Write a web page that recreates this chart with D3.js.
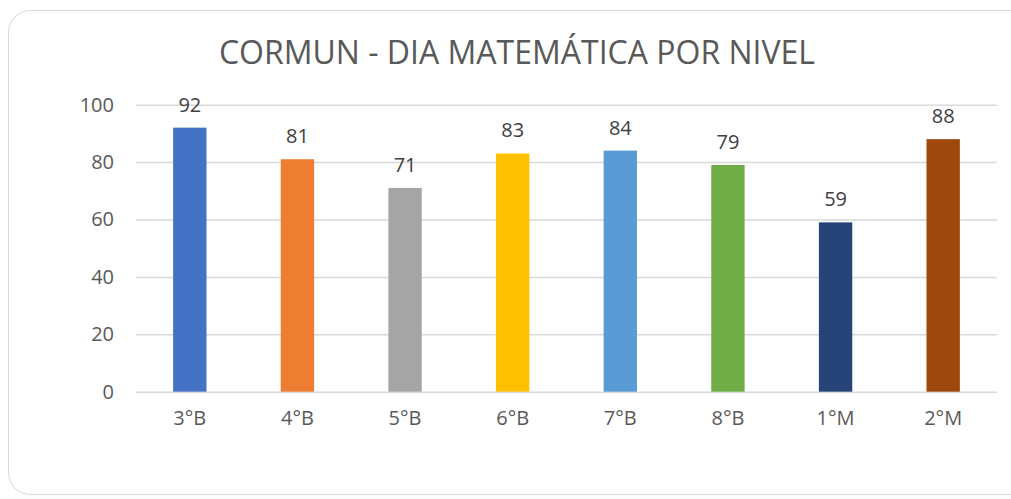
<!DOCTYPE html>
<html>
<head>
    <meta charset="utf-8">
    <title>CORMUN - Dia Matemática</title>
    <script src="https://d3js.org/d3.v7.min.js"></script>
    <style>
        body { margin: 0; background: #fff; font-family: "Open Sans", sans-serif; }
        .grid line { stroke: #d9d9d9; stroke-width: 1.5px; }
        .grid path { display: none; }
        .tick text { fill: #595959; }
    </style>
</head>
<body>
<script>
    // chart data
    let niveles = ["3°B", "4°B", "5°B", "6°B", "7°B", "8°B", "1°M", "2°M"];
    let valores = [92, 81, 71, 83, 84, 79, 59, 88];
    let colores = ["#4472C4", "#ED7D31", "#A5A5A5", "#FFC000", "#5B9BD5", "#70AD47", "#264478", "#9E480E"];
    let yTicks = [0, 20, 40, 60, 80, 100];

    let width = 1011, height = 499;
    let plot = {left: 136, right: 997, top: 104.7, bottom: 391.7};

    let svg = d3.select("body").append("svg")
        .attr("width", width)
        .attr("height", height);

    // card frame
    svg.append("rect")
        .attr("x", 8.5).attr("y", 10.5)
        .attr("width", 1040).attr("height", 484)
        .attr("rx", 22)
        .attr("fill", "#fff")
        .attr("stroke", "#d9d9d9")
        .attr("stroke-width", 1);

    svg.append("text")
        .attr("x", 517).attr("y", 64)
        .attr("text-anchor", "middle")
        .attr("font-size", 32)
        .attr("fill", "#595959")
        .text("CORMUN - DIA MATEMÁTICA POR NIVEL");

    let x = d3.scaleBand().domain(niveles).range([plot.left, plot.right]).paddingInner(0.69).paddingOuter(0.345);
    let y = d3.scaleLinear().domain([0, 100]).range([plot.bottom, plot.top]);

    // gridlines + y labels
    svg.append("g")
        .attr("class", "grid")
        .attr("transform", `translate(${plot.left},0)`)
        .call(d3.axisLeft(y).tickValues(yTicks).tickSize(-(plot.right - plot.left)).tickPadding(22))
        .call(g => g.selectAll("text").attr("font-size", 20).attr("font-family", "Open Sans"));

    // x labels
    svg.append("g")
        .attr("transform", `translate(0,${plot.bottom})`)
        .call(d3.axisBottom(x).tickSize(0).tickPadding(19))
        .call(g => g.select(".domain").remove())
        .call(g => g.selectAll("text").attr("font-size", 20).attr("font-family", "Open Sans"));

    let data = niveles.map((n, i) => ({nivel: n, valor: valores[i], color: colores[i]}));

    svg.append("g").selectAll("rect")
        .data(data)
        .join("rect")
        .attr("x", d => x(d.nivel))
        .attr("y", d => y(d.valor))
        .attr("width", x.bandwidth())
        .attr("height", d => y(0) - y(d.valor))
        .attr("fill", d => d.color);

    svg.append("g").selectAll("text")
        .data(data)
        .join("text")
        .attr("x", d => x(d.nivel) + x.bandwidth() / 2)
        .attr("y", d => y(d.valor) - 16)
        .attr("text-anchor", "middle")
        .attr("font-size", 20)
        .attr("fill", "#404040")
        .text(d => d.valor);
</script>
</body>
</html>
